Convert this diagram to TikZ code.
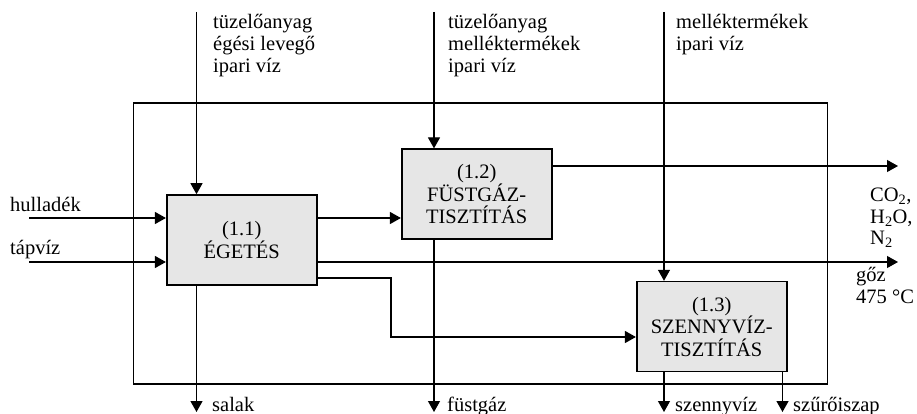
\documentclass[tikz,border=0pt]{standalone}
\usepackage{fontspec}
\setmainfont{Liberation Serif}
\usetikzlibrary{arrows.meta}
\definecolor{boxgray}{HTML}{E6E6E6}
\begin{document}
\begin{tikzpicture}[x=1pt,y=-1pt,
  font=\fontsize{20.5}{22.5}\selectfont,
  line/.style={line width=1.2pt, draw=black},
  arr/.style={line, -{Triangle[length=11pt,width=12pt]}},
  proc/.style={draw=black, line width=1.6pt, fill=boxgray, minimum width=150pt, minimum height=90pt, inner sep=0pt, align=center},
  lbl/.style={anchor=base west, inner sep=0pt}]
\useasboundingbox (0,0) rectangle (917,414);
\node[draw, line width=1.3pt, minimum width=694.5pt, minimum height=281pt, inner sep=0pt] (frame) at (480.5,243.5) {};
\node[proc] (b11) at (241.7,240) {(1.1)\\ÉGETÉS};
\node[proc] (b12) at (476.7,194.2) {(1.2)\\FÜSTGÁZ-\\TISZTÍTÁS};
\node[proc] (b13) at (711.7,326.6) {(1.3)\\SZENNYVÍZ-\\TISZTÍTÁS};
\coordinate (t1) at (196.5,12);
\coordinate (t2) at (434,12);
\coordinate (t3) at (664,12);
\coordinate (h) at (29,218);
\coordinate (tv) at (29,262);
\coordinate (co) at (898,166);
\coordinate (gz) at (898,262);
\coordinate (k) at (391,278);
\coordinate (k2) at (391,337);
\coordinate (s1) at (196.5,412);
\coordinate (s2) at (434,412);
\coordinate (s3) at (664,412);
\coordinate (s4) at (782.5,412);
\draw[arr] (t1) -- (t1 |- b11.north);
\draw[arr] (t2) -- (t2 |- b12.north);
\draw[arr] (t3) -- (t3 |- b13.north);
\draw[arr] (h) -- (h -| b11.west);
\draw[arr] (tv) -- (tv -| b11.west);
\draw[arr] (b11.east |- h) -- (h -| b12.west);
\draw[arr] (b11.east |- tv) -- (gz);
\draw[arr] (b11.east |- k) -- (k) -- (k2) -- (k2 -| b13.west);
\draw[arr] (b12.east |- co) -- (co);
\draw[arr] (b11.south -| t1) -- (s1);
\draw[arr] (b12.south -| t2) -- (s2);
\draw[arr] (b13.south -| t3) -- (s3);
\draw[arr] (b13.south -| s4) -- (s4);
% top labels
\node[lbl] (la1) at (213,29) {tüzelőanyag};
\node[lbl] (la2) at (213,51) {égési levegő};
\node[lbl] (la3) at (213,73) {ipari víz};
\node[lbl] (lb1) at (448,29) {tüzelőanyag};
\node[lbl] (lb2) at (448,51) {melléktermékek};
\node[lbl] (lb3) at (448,73) {ipari víz};
\node[lbl] (lc1) at (676,29) {melléktermékek};
\node[lbl] (lc2) at (676,51) {ipari víz};
% left labels
\node[lbl] (lh) at (10,211) {hulladék};
\node[lbl] (ltv) at (10,254) {tápvíz};
% right labels
\node[lbl] (r1) at (870,201.5) {CO\textsubscript{2},};
\node[lbl] (r2) at (870,223) {H\textsubscript{2}O,};
\node[lbl] (r3) at (870,244.5) {N\textsubscript{2}};
\node[lbl] (r4) at (856,281) {gőz};
\node[lbl] (r5) at (856,303) {475~°C};
% bottom labels
\node[lbl] (o1) at (212,411) {salak};
\node[lbl] (o2) at (447,411) {füstgáz};
\node[lbl] (o3) at (675,411) {szennyvíz};
\node[lbl] (o4) at (793,411) {szűrőiszap};
\end{tikzpicture}
\end{document}
